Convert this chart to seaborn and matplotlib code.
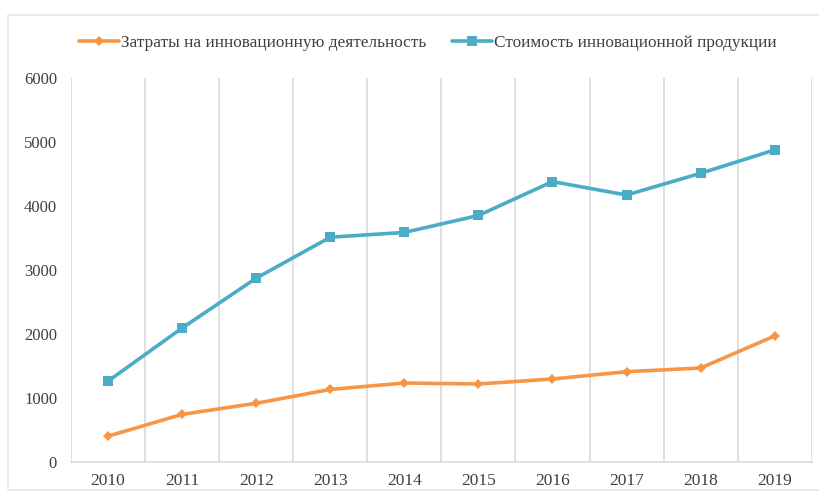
import pandas as pd
import matplotlib
matplotlib.use("Agg")
import matplotlib.pyplot as plt
import seaborn as sns
from matplotlib.patches import Rectangle

# data
years = [2010, 2011, 2012, 2013, 2014, 2015, 2016, 2017, 2018, 2019]
costs = [400, 740, 913, 1130, 1230, 1215, 1293, 1407, 1465, 1966]
product_value = [1260, 2090, 2870, 3510, 3585, 3850, 4380, 4170, 4510, 4875]

label_costs = "Затраты на инновационную деятельность"
label_value = "Стоимость инновационной продукции"

orange = "#F79646"
blue = "#4BACC6"
grid_gray = "#D9D9D9"
text_gray = "#404040"

sns.set_theme(style="white")
plt.rcParams["font.family"] = ["Liberation Serif", "DejaVu Serif"]

fig = plt.figure(figsize=(8.2, 4.93), dpi=100)
ax = fig.add_axes([0.0866, 0.0635, 0.9033, 0.7783])

# outer chart frame
fig.patches.append(Rectangle((8 / 820, 3 / 493), 1.0, 475 / 493, transform=fig.transFigure,
                             fill=False, edgecolor="#E6E6E6", linewidth=1.2))

df = pd.DataFrame({"year": years, "costs": costs, "value": product_value})

sns.lineplot(data=df, x="year", y="costs", ax=ax, color=orange, linewidth=2.6,
             marker="D", markersize=5, markeredgewidth=0, label=label_costs)
sns.lineplot(data=df, x="year", y="value", ax=ax, color=blue, linewidth=2.6,
             marker="s", markersize=6.5, markeredgewidth=0, label=label_value)

ax.set_xlim(years[0] - 0.5, years[-1] + 0.5)
ax.set_ylim(0, 6000)
ax.set_yticks(range(0, 6001, 1000))
ax.set_xticks(years)
ax.set_xticklabels([str(y) for y in years])

# vertical gridlines between categories
ax.set_xticks([y - 0.5 for y in years] + [years[-1] + 0.5], minor=True)
ax.grid(which="minor", axis="x", color=grid_gray, linewidth=1.2)
ax.grid(which="major", visible=False)
ax.tick_params(which="both", length=0)
ax.tick_params(axis="y", pad=10, labelsize=12, labelcolor=text_gray)
ax.tick_params(axis="x", pad=8, labelsize=12.5, labelcolor=text_gray)

for side in ["top", "right", "left"]:
    ax.spines[side].set_visible(False)
ax.spines["bottom"].set_color(grid_gray)
ax.spines["bottom"].set_linewidth(1.2)

ax.set_xlabel("")
ax.set_ylabel("")

ax.legend(loc="center", bbox_to_anchor=(0.522, 0.912), bbox_transform=fig.transFigure,
          ncol=2, frameon=False, fontsize=12.4, handlelength=2.3, handletextpad=0.15,
          columnspacing=1.5, labelcolor=text_gray)

fig.savefig("out.png", dpi=100, facecolor="white")
